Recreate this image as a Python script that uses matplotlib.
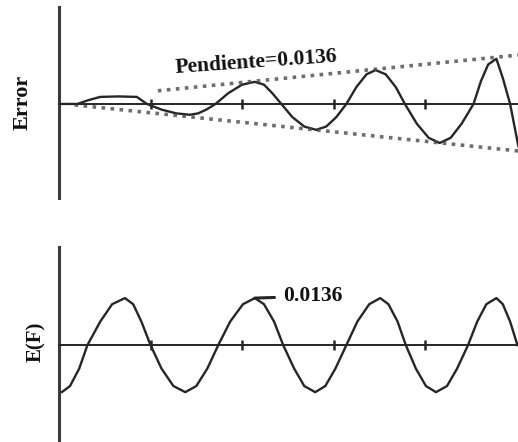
import matplotlib
matplotlib.use("Agg")
import matplotlib.pyplot as plt

# Top panel: error trace (x in axis-tick units, y in arbitrary units)
err_x = [0.0, 0.10, 0.20, 0.32, 0.45, 0.65, 0.85, 0.96, 1.12, 1.28, 1.43, 1.52,
         1.61, 1.71, 1.85, 2.00, 2.14, 2.24, 2.33, 2.43, 2.55, 2.68, 2.81, 2.92,
         3.03, 3.14, 3.25, 3.36, 3.46, 3.57, 3.68, 3.78, 3.91, 4.04, 4.16, 4.28,
         4.40, 4.53, 4.61, 4.69, 4.78, 4.85, 4.93, 4.98, 5.02]
err_y = [0.0, 0.0, 0.0, 0.08, 0.15, 0.16, 0.15, 0.0, -0.12, -0.20, -0.23, -0.20,
         -0.12, 0.0, 0.23, 0.41, 0.47, 0.41, 0.23, 0.0, -0.28, -0.48, -0.55, -0.48,
         -0.28, 0.0, 0.36, 0.63, 0.72, 0.63, 0.36, 0.0, -0.42, -0.72, -0.83, -0.72,
         -0.42, 0.0, 0.48, 0.84, 0.96, 0.55, 0.0, -0.5, -0.9]

# Dotted envelope lines
env_up_x = [1.08, 5.02]
env_up_y = [0.28, 1.04]
env_lo_x = [0.17, 5.02]
env_lo_y = [-0.02, -1.0]
slope_text = "Pendiente=0.0136"

# Bottom panel: E(F)
ef_x = [0.01, 0.03, 0.12, 0.22, 0.31, 0.45, 0.58, 0.72, 0.81, 0.90, 1.00, 1.12,
        1.25, 1.38, 1.50, 1.62, 1.74, 1.87, 2.01, 2.14, 2.24, 2.35, 2.45, 2.57,
        2.68, 2.80, 2.91, 3.02, 3.14, 3.26, 3.39, 3.51, 3.60, 3.70, 3.79, 3.90,
        4.01, 4.12, 4.24, 4.35, 4.47, 4.57, 4.67, 4.78, 4.85, 4.93, 5.01]
ef_y = [-1.0, -1.0, -0.87, -0.5, 0.0, 0.5, 0.87, 1.0, 0.87, 0.5, 0.0, -0.5,
        -0.87, -1.0, -0.87, -0.5, 0.0, 0.5, 0.87, 1.0, 0.87, 0.5, 0.0, -0.5,
        -0.87, -1.0, -0.87, -0.5, 0.0, 0.5, 0.87, 1.0, 0.87, 0.5, 0.0, -0.5,
        -0.87, -1.0, -0.87, -0.5, 0.0, 0.5, 0.87, 1.0, 0.87, 0.5, 0.0]
ef_peak = (2.14, 1.0)
ef_text = "0.0136"

ticks = [1, 2, 3, 4]

ink = "#262626"
serif = ["Liberation Serif", "DejaVu Serif"]

fig = plt.figure(figsize=(5.18, 4.42), dpi=100)
ax1 = fig.add_axes([0.114, 0.552, 0.886, 0.432])
ax2 = fig.add_axes([0.114, 0.0, 0.886, 0.441])


def style_axes(ax, ylim):
    ax.set_xlim(0, 5.016)
    ax.set_ylim(*ylim)
    for s in ["top", "right"]:
        ax.spines[s].set_visible(False)
    ax.spines["left"].set_linewidth(2.2)
    ax.spines["left"].set_color("#3a3a3a")
    ax.spines["bottom"].set_position(("data", 0))
    ax.spines["bottom"].set_linewidth(1.4)
    ax.spines["bottom"].set_color(ink)
    ax.set_xticks(ticks)
    ax.set_xticklabels([])
    ax.set_yticks([])
    ax.tick_params(axis="x", direction="inout", length=7, width=1.8, color=ink)


style_axes(ax1, (-2.0, 2.06))
style_axes(ax2, (-2.06, 2.085))

ax1.plot(err_x, err_y, color=ink, lw=1.7, solid_joinstyle="round")
ax1.plot(env_up_x, env_up_y, color="#4a4a4a", lw=2.6, ls=(0, (1, 1.5)), alpha=0.8)
ax1.plot(env_lo_x, env_lo_y, color="#4a4a4a", lw=2.6, ls=(0, (1, 1.5)), alpha=0.8)
ax1.text(2.16, 0.88, slope_text, ha="center", va="center", rotation=4,
         fontsize=15.5, fontweight="bold", family=serif, color="#111111")

ax2.plot(ef_x, ef_y, color=ink, lw=1.7, solid_joinstyle="round")
ax2.annotate(ef_text, xy=ef_peak, xytext=(2.77, 1.04), ha="center", va="center",
             fontsize=15.5, fontweight="bold", family=serif, color="#111111",
             arrowprops=dict(arrowstyle="-", color=ink, lw=2.2, shrinkA=4, shrinkB=0))

fig.text(23 / 518, 1 - 102 / 442, "Error", rotation=90, ha="center", va="center",
         fontsize=16, fontweight="bold", family=serif, color="#111111")
fig.text(36 / 518, 1 - 342 / 442, "E(F)", rotation=90, ha="center", va="center",
         fontsize=15, fontweight="bold", family=serif, color="#111111")

fig.savefig("out.png", dpi=100)
